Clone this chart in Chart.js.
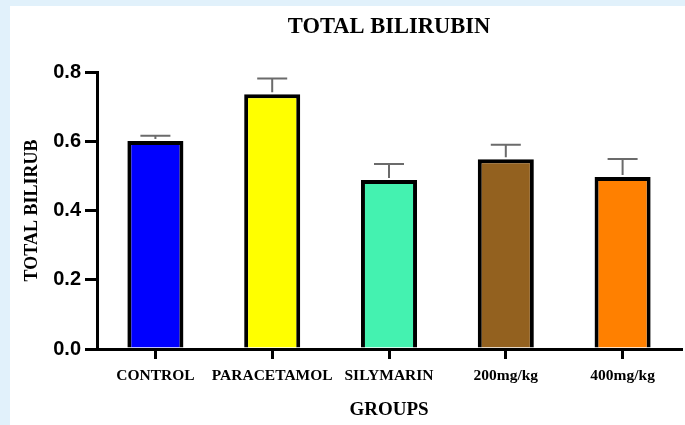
<!DOCTYPE html>
<html>
<head>
<meta charset="utf-8">
<script src="https://cdn.jsdelivr.net/npm/chart.js@4/dist/chart.umd.min.js"></script>
<style>
  html, body { margin: 0; padding: 0; }
  body { width: 685px; height: 425px; background: #e1f1fb; position: relative; overflow: hidden; }
  #box { position: absolute; left: 10px; top: 6px; width: 675px; height: 419px; background: #fff; }
</style>
</head>
<body>
<div id="box"><canvas id="biliChart" width="675" height="419"></canvas></div>
<script>
const groups = ['CONTROL', 'PARACETAMOL', 'SILYMARIN', '200mg/kg', '400mg/kg'];  // x categories
const means = [0.601, 0.736, 0.488, 0.548, 0.497];   // total bilirubin means
const errors = [0.015, 0.045, 0.046, 0.042, 0.052];  // upper error bars
const barColors = ['#0000ff', '#ffff00', '#44f2b0', '#93611f', '#ff8000'];
const yTicks = [0, 0.2, 0.4, 0.6, 0.8];

const serif = '"Liberation Serif", "Times New Roman", serif';
const sans = '"Liberation Sans", Arial, sans-serif';

// Error bars (upper only) drawn on top of the bars
const errorBars = {
    id: 'errorBars',
    afterDatasetsDraw(chart) {
        const ctx = chart.ctx;
        const y = chart.scales.y;
        const meta = chart.getDatasetMeta(0);
        ctx.save();
        ctx.strokeStyle = '#6b6b6b';
        ctx.lineWidth = 2;
        meta.data.forEach((bar, i) => {
            const top = y.getPixelForValue(means[i]);
            const cap = y.getPixelForValue(means[i] + errors[i]);
            ctx.beginPath();
            ctx.moveTo(bar.x, top - 2);
            ctx.lineTo(bar.x, cap);
            ctx.moveTo(bar.x - 15, cap);
            ctx.lineTo(bar.x + 15, cap);
            ctx.stroke();
        });
        ctx.restore();
    }
};

// Title centred over the plot area
const plotTitle = {
    id: 'plotTitle',
    afterDraw(chart) {
        const ctx = chart.ctx;
        const area = chart.chartArea;
        ctx.save();
        ctx.font = 'bold 22.5px ' + serif;
        ctx.fillStyle = '#000';
        ctx.textAlign = 'center';
        ctx.textBaseline = 'middle';
        ctx.fillText('TOTAL BILIRUBIN', (area.left + area.right) / 2, 21);
        ctx.restore();
    }
};

const ctx = document.getElementById('biliChart').getContext('2d');
const biliChart = new Chart(ctx, {
    type: 'bar',
    data: {
        labels: groups,
        datasets: [{
            data: means,
            backgroundColor: barColors,
            borderColor: '#000',
            borderWidth: 4,
            borderSkipped: 'start',
            categoryPercentage: 1,
            barPercentage: 0.48
        }]
    },
    options: {
        responsive: false,
        animation: false,
        layout: { padding: { top: 66, right: 4, left: 0, bottom: 0 } },
        plugins: {
            legend: { display: false },
            tooltip: { enabled: false }
        },
        scales: {
            x: {
                offset: true,
                grid: { offset: false, drawOnChartArea: false, color: '#000', lineWidth: 3, tickLength: 10 },
                border: { color: '#000', width: 3, z: 1 },
                ticks: { color: '#000', padding: 8, autoSkip: false, maxRotation: 0, minRotation: 0,
                         font: { family: serif, size: 15.5, weight: 'bold' } },
                title: { display: true, text: 'GROUPS', color: '#000', padding: { top: 0, bottom: 4 },
                         font: { family: serif, size: 19, weight: 'bold' } },
                afterFit(scale) { scale.height = 76; }
            },
            y: {
                min: 0,
                max: 0.8,
                afterBuildTicks(scale) { scale.ticks = yTicks.map(v => ({ value: v })); },
                grid: { drawOnChartArea: false, color: '#000', lineWidth: 3, tickLength: 12 },
                border: { color: '#000', width: 3 },
                ticks: { color: '#000', padding: 4, callback: v => v.toFixed(1),
                         font: { family: sans, size: 20, weight: 'bold' } },
                title: { display: true, text: 'TOTAL BILIRUB', color: '#000', padding: { top: 12, bottom: 0 },
                         font: { family: serif, size: 18, weight: 'bold' } },
                afterFit(scale) { scale.width = 87; }
            }
        }
    },
    plugins: [errorBars, plotTitle]
});
</script>
</body>
</html>
